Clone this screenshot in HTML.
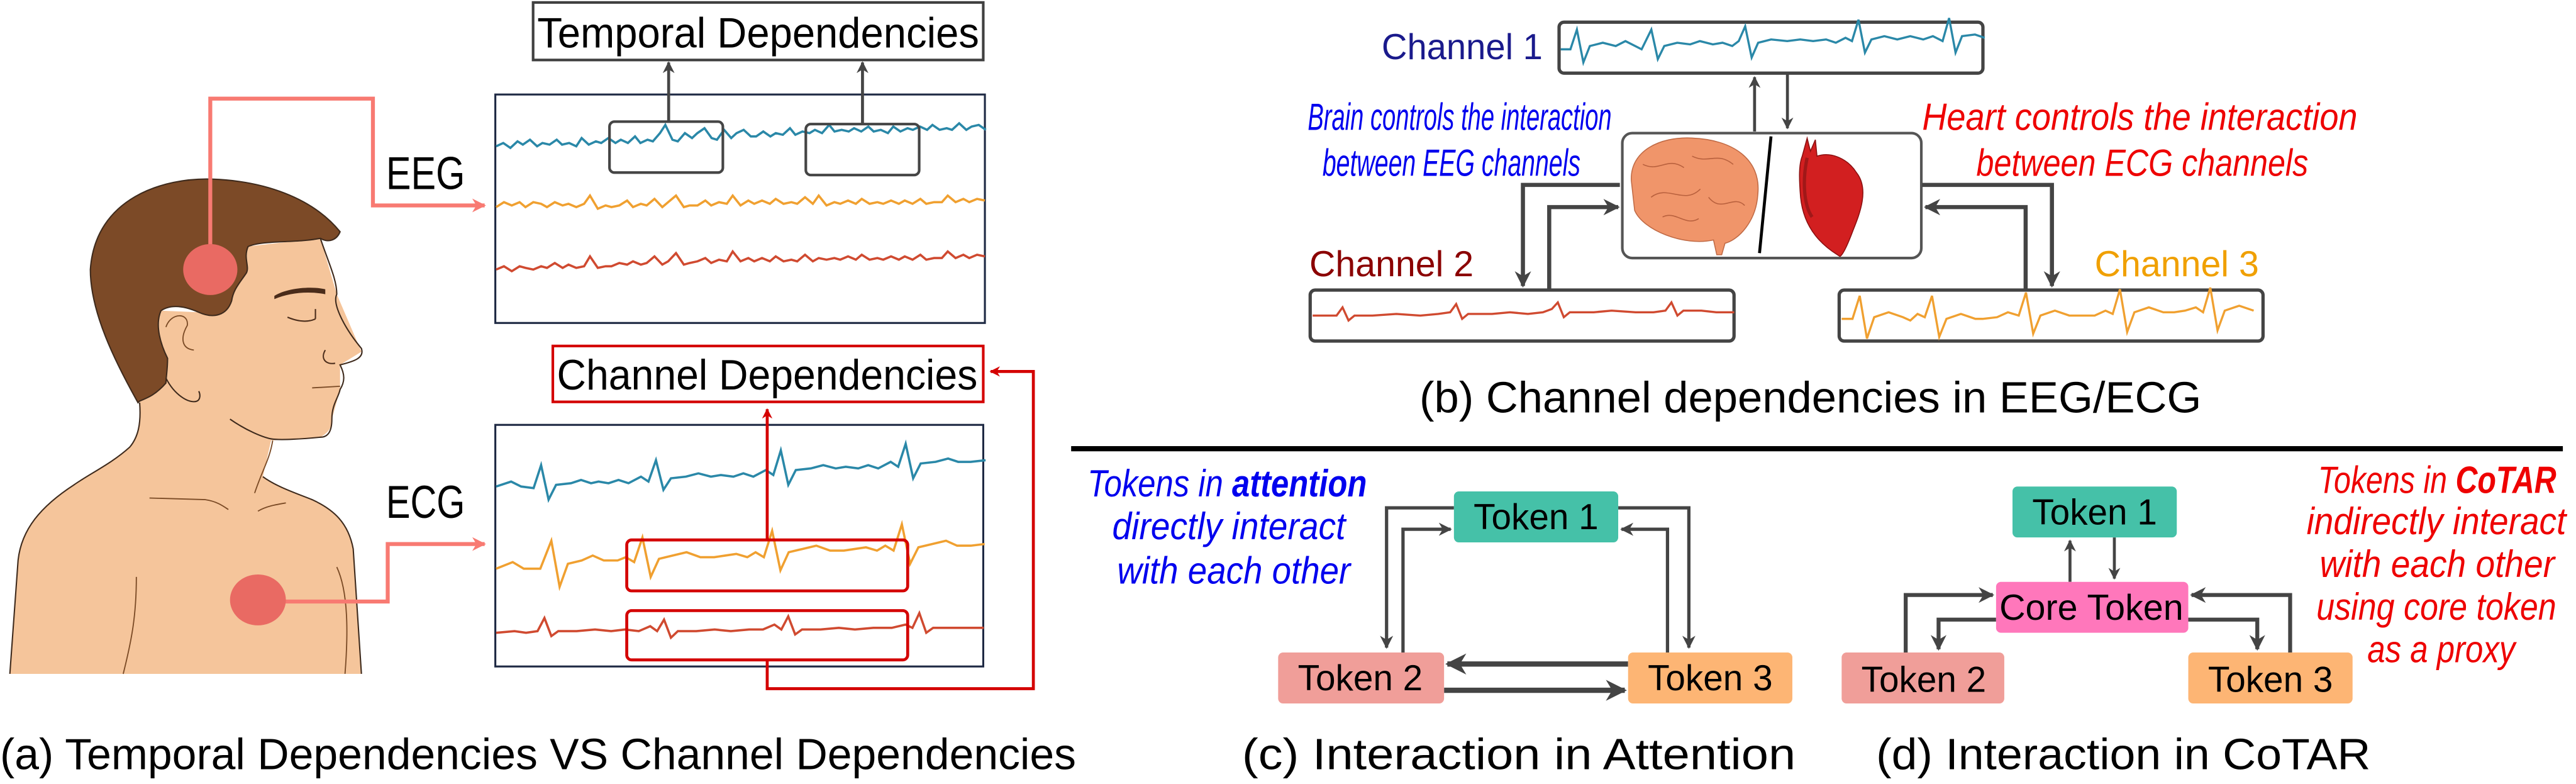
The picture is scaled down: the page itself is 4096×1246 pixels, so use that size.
<!DOCTYPE html>
<html><head><meta charset="utf-8"><style>
html,body{margin:0;padding:0;background:#fff;}
svg{display:block;}
text{font-family:"Liberation Sans",sans-serif;}
</style></head><body>
<svg width="4096" height="1246" viewBox="0 0 1568 477" preserveAspectRatio="none" xmlns="http://www.w3.org/2000/svg">
<defs>
<marker id="ag" viewBox="0 0 10 10" refX="9" refY="5" markerWidth="4" markerHeight="4" orient="auto-start-reverse"><path d="M0,0 L10,5 L0,10 L3,5 Z" fill="#444"/></marker>
<marker id="ar" viewBox="0 0 10 10" refX="9" refY="5" markerWidth="3.5" markerHeight="3.5" orient="auto"><path d="M0,0 L10,5 L0,10 L3,5 Z" fill="#d40000"/></marker>
<marker id="ap" viewBox="0 0 10 10" refX="9" refY="5" markerWidth="3.5" markerHeight="3.5" orient="auto"><path d="M0,0 L10,5 L0,10 L3,5 Z" fill="#f87a72"/></marker>
</defs>

<!-- ===== Panel (a) person ===== -->
<path d="M85,245 C86,258 84,266 79,272 C68,282 55,288 45,295 C25,308 13,322 11,341 L6,410 L220,410 L215,334 C212,318 203,310 190,304 C180,300 168,296 160,290 L165,268 L195,266 C202,262 202,258 202,255 L207,237 L207,222 L220,214 L205,179 L195,145 L150,150 L121,190 L98,189 L85,244 Z" fill="#f5c59b"/>
<path d="M85,245 C86,258 84,266 79,272 C68,282 55,288 45,295 C25,308 13,322 11,341 L6,410" fill="none" stroke="#3e2a1c" stroke-width="0.8"/>
<path d="M160,290 C168,296 180,300 190,304 C203,310 212,318 215,334 L220,410" fill="none" stroke="#3e2a1c" stroke-width="0.8"/>
<path d="M84,245 C70,220 55,190 55,164 C58,120 100,108 129,109 C160,110 190,120 207,141 C205,146 200,148 195,145 C180,148 160,146 151,150 C148,157 152,162 150,166 C146,172 142,176 141,183 C138,192 130,194 121,190 C112,186 104,185 98,189 C94,198 98,210 102,218 C102,225 101,230 101,233 C95,240 90,242 85,244 Z" fill="#7c4a27" stroke="#3e2a1c" stroke-width="0.8"/>
<path d="M195,145 C200,160 205,170 205,179 C202,185 210,200 220,212 C222,218 215,220 207,222 C210,228 210,232 207,237 C206,242 202,246 202,255 C202,262 200,266 195,266 C185,267 170,268 165,267 C160,266 150,262 140,255" fill="none" stroke="#3e2a1c" stroke-width="0.8"/>
<path d="M166,268 C164,280 160,285 155,300" fill="none" stroke="#7a4a25" stroke-width="0.7"/>
<path d="M91,303 L125,304 C132,305 136,308 139,310 M157,311 C162,308 168,307 174,306 M83,351 C83,375 80,390 75,410 M205,345 C212,360 212,385 210,410" fill="none" stroke="#7a4a25" stroke-width="0.7"/>
<path d="M167,180 C175,175 190,174 198,176 L198,179 C188,177 176,178 167,182 Z" fill="#4a2c1a"/>
<path d="M175,193 C182,196 188,196 192,194 M192,188 L192,194 M198,213 C195,218 198,222 204,221" fill="none" stroke="#4a2c1a" stroke-width="0.8"/>
<path d="M190,236 L207,235" stroke="#7a4a25" stroke-width="0.7"/>
<path d="M101,230 C106,240 115,246 120,244 C122,243 122,240 121,238" fill="none" stroke="#3e2a1c" stroke-width="0.8"/>
<path d="M101,199 C104,190 115,190 114,198 C110,205 110,212 118,213" fill="none" stroke="#7a4a25" stroke-width="0.7"/>

<polyline points="128,164 128,60 227,60 227,125 295,125" fill="none" stroke="#f87a72" stroke-width="2.4" marker-end="url(#ap)"/>
<polyline points="157,366 236,366 236,331 295,331" fill="none" stroke="#f87a72" stroke-width="2.4" marker-end="url(#ap)"/>
<ellipse cx="128" cy="164" rx="16.5" ry="15.5" fill="#e96a63"/>
<ellipse cx="157" cy="365" rx="17" ry="15.5" fill="#e96a63"/>

<text x="235" y="115" font-size="28" textLength="48" lengthAdjust="spacingAndGlyphs">EEG</text>
<text x="235" y="315" font-size="28" textLength="48" lengthAdjust="spacingAndGlyphs">ECG</text>

<rect x="324.5" y="1.5" width="274" height="35" fill="#fff" stroke="#404040" stroke-width="1.6"/>
<text x="327" y="29" font-size="26" textLength="269" lengthAdjust="spacingAndGlyphs">Temporal Dependencies</text>

<rect x="301.5" y="57.5" width="298" height="139" fill="#fff" stroke="#1f2a44" stroke-width="1.2"/>
<g transform="translate(302,0) scale(1.084,1) translate(-302,0)">
<path vector-effect="non-scaling-stroke" d="M302,89 l4,-2 4,3 4,-4 3,2 4,-3 4,4 3,-2 4,1 4,-3 3,3 4,-1 4,2 3,-5 4,4 4,-2 3,1 4,-3 4,3 3,-2 4,2 4,-4 3,4 4,-2 3,1 4,-5 3,-5 4,9 3,1 4,-5 4,3 3,-3 4,-3 4,6 3,1 4,-6 4,5 3,-3 4,-2 4,4 3,0 4,-3 4,3 3,-2 4,1 4,-4 3,4 4,-2 4,1 3,-2 4,2 4,-5 3,4 4,-1 4,1 3,-2 4,2 4,-3 3,3 4,-1 4,2 3,-4 4,3 4,-2 3,1 4,-2 4,2 3,-3 4,3 4,-1 3,1 4,-4 4,4 3,-2 4,-1 4,3" fill="none" stroke="#2a88a8" stroke-width="3.6"/></g>
<g transform="translate(302,0) scale(1.19,1) translate(-302,0)">
<path vector-effect="non-scaling-stroke" d="M302,126 l4,-3 4,2 4,-2 3,3 4,-3 4,1 3,2 4,-3 4,2 3,-1 4,2 4,-2 3,-5 4,8 4,-2 3,1 4,-1 4,-3 3,4 4,-2 3,1 4,-4 4,5 3,-3 4,-4 4,7 3,-1 4,0 4,-3 3,3 4,-2 4,1 3,-5 4,6 4,-3 3,2 4,-2 4,2 3,-3 4,3 4,-1 3,1 4,-4 4,4 3,-5 4,6 4,-2 3,1 4,-2 4,2 3,-3 4,3 4,-1 3,1 4,-2 4,2 3,-2 4,2 4,-3 3,3 4,-1 4,0 3,-4 4,4 4,-2 3,2 4,-2 4,1" fill="none" stroke="#f0a030" stroke-width="3.6"/>
<path vector-effect="non-scaling-stroke" d="M302,164 l4,-2 4,3 4,-3 3,1 4,1 4,-2 3,1 4,-3 4,3 3,-2 4,2 4,-1 3,-6 4,7 4,-1 3,0 4,-2 4,1 3,-2 4,2 3,-1 4,-4 4,5 3,-2 4,-5 4,7 3,-1 4,-1 4,-2 3,3 4,-2 4,1 3,-6 4,6 4,-2 3,2 4,-2 4,2 3,-3 4,3 4,-1 3,1 4,-4 4,4 3,-2 4,1 4,-1 3,1 4,-2 4,2 3,-3 4,3 4,-1 3,1 4,-2 4,2 3,-2 4,2 4,-3 3,3 4,-1 4,0 3,-4 4,4 4,-2 3,2 4,-2 4,1" fill="none" stroke="#d04a30" stroke-width="3.6"/></g>
<rect x="371" y="74" width="69" height="31" rx="3" fill="none" stroke="#454545" stroke-width="1.6"/>
<rect x="490.5" y="75.5" width="69" height="31" rx="3" fill="none" stroke="#454545" stroke-width="1.6"/>
<line x1="407" y1="74" x2="407" y2="38" stroke="#454545" stroke-width="1.8" marker-end="url(#ag)"/>
<line x1="525" y1="75" x2="525" y2="38" stroke="#454545" stroke-width="1.8" marker-end="url(#ag)"/>

<rect x="336.5" y="210.5" width="262" height="34" fill="#fff" stroke="#d40000" stroke-width="1.6"/>
<text x="339" y="237" font-size="26" textLength="256" lengthAdjust="spacingAndGlyphs">Channel Dependencies</text>

<rect x="301.5" y="258.5" width="297" height="147" fill="#fff" stroke="#1f2a44" stroke-width="1.2"/>
<g transform="translate(302,0) scale(1.52,1) translate(-302,0)">
<path vector-effect="non-scaling-stroke" d="M302,296 l6,-3 4,3 5,1 3,-14 3,21 3,-9 6,-1 4,-2 4,2 3,-1 4,1 4,-2 4,2 5,-4 3,3 3,-13 3,18 3,-7 6,-1 5,-2 5,2 4,-1 5,1 4,-2 4,2 5,-4 3,3 3,-15 3,21 3,-9 6,-1 5,-2 5,2 4,-1 5,1 4,-2 4,2 5,-4 3,3 3,-14 3,21 3,-9 6,-1 5,-2 4,2 5,0 6,-1" fill="none" stroke="#2a88a8" stroke-width="3.6"/></g>
<g transform="translate(302,0) scale(1.68,1) translate(-302,0)">
<path vector-effect="non-scaling-stroke" d="M302,346 l6,-4 4,4 6,0 4,-17 3,28 3,-14 5,-2 4,-3 4,3 5,0 3,-2 3,3 3,-15 3,24 3,-11 5,-2 5,-2 5,3 5,0 4,-1 4,-1 4,2 3,-3 3,3 3,-16 3,24 3,-11 5,-2 5,-2 5,3 5,0 4,-1 4,-1 4,2 3,-3 3,3 3,-16 3,24 3,-10 5,-2 5,-2 4,3 5,0 5,-1" fill="none" stroke="#f0a030" stroke-width="3.6"/></g>
<g transform="translate(302,0) scale(1.40,1) translate(-302,0)">
<path vector-effect="non-scaling-stroke" d="M302,385 l8,-1 5,1 5,-1 3,-8 3,11 3,-3 8,0 8,-1 7,1 6,-1 6,1 5,-3 3,3 3,-7 3,11 3,-4 8,0 8,-1 7,1 8,-1 6,0 5,-3 3,3 3,-8 3,11 3,-3 8,0 8,-1 7,1 8,-1 8,0 6,-2 3,2 3,-9 3,12 3,-3 8,0 8,0 6,0" fill="none" stroke="#d04a30" stroke-width="3.6"/></g>
<rect x="381.5" y="328.5" width="171" height="31" rx="3" fill="none" stroke="#d40000" stroke-width="1.8"/>
<rect x="381.5" y="371.5" width="171" height="30" rx="3" fill="none" stroke="#d40000" stroke-width="1.8"/>
<line x1="467" y1="328" x2="467" y2="249" stroke="#d40000" stroke-width="1.8" marker-end="url(#ar)"/>
<polyline points="467,402 467,419 629,419 629,226 603,226" fill="none" stroke="#d40000" stroke-width="1.8" marker-end="url(#ar)"/>

<text x="0" y="468" font-size="26.5" textLength="655" lengthAdjust="spacingAndGlyphs">(a) Temporal Dependencies VS Channel Dependencies</text>

<!-- ===== Panel (b) ===== -->
<text x="841" y="36" font-size="22" fill="#1a1a8c" textLength="98" lengthAdjust="spacingAndGlyphs">Channel 1</text>
<rect x="949" y="13.5" width="258" height="31" rx="3" fill="#fff" stroke="#444" stroke-width="2"/>
<g transform="translate(950,0) scale(1.97,1) translate(-950,0)">
<path vector-effect="non-scaling-stroke" d="M950,30 l3,0 2,-12 2,20 2,-10 4,-2 4,2 3,-3 3,3 2,2 3,-12 2,18 2,-8 4,-2 4,1 3,-2 4,2 3,-1 3,2 2,-3 2,-9 2,19 2,-9 4,-2 5,1 4,-1 4,1 4,-1 3,2 3,-3 2,2 2,-13 2,20 2,-8 4,-2 4,2 4,-2 4,2 3,-2 3,3 2,-14 2,21 2,-10 4,-1 3,2" fill="none" stroke="#2a88a8" stroke-width="3.4"/></g>
<line x1="1068" y1="80" x2="1068" y2="47" stroke="#444" stroke-width="1.8" marker-end="url(#ag)"/>
<line x1="1088" y1="45" x2="1088" y2="78" stroke="#444" stroke-width="1.8" marker-end="url(#ag)"/>

<text x="796" y="79" font-size="23" font-style="italic" fill="#0000ee" textLength="185" lengthAdjust="spacingAndGlyphs">Brain controls the interaction</text>
<text x="805" y="107" font-size="23" font-style="italic" fill="#0000ee" textLength="157" lengthAdjust="spacingAndGlyphs">between EEG channels</text>
<text x="1170" y="79" font-size="23" font-style="italic" fill="#ee0000" textLength="265" lengthAdjust="spacingAndGlyphs">Heart controls the interaction</text>
<text x="1203" y="107" font-size="23" font-style="italic" fill="#ee0000" textLength="202" lengthAdjust="spacingAndGlyphs">between ECG channels</text>

<rect x="987.5" y="81" width="182" height="76" rx="6" fill="#fff" stroke="#555" stroke-width="1.6"/>
<path d="M993,110 C992,92 1010,83 1030,84 C1055,85 1072,97 1070,118 C1069,135 1058,146 1050,148 L1048,155 L1045,155 L1043,146 C1025,150 1000,140 995,128 Z" fill="#f0956a" stroke="#c06a45" stroke-width="0.6"/>
<path d="M1000,100 C1010,105 1015,95 1025,102 M1005,120 C1015,112 1025,125 1035,115 M1030,95 C1040,100 1045,92 1055,100 M1040,120 C1048,130 1055,118 1062,125 M1012,132 C1020,128 1026,138 1034,133" fill="none" stroke="#b8603d" stroke-width="0.6"/>
<path d="M1078,83 L1071,154" stroke="#000" stroke-width="1.8"/>
<path d="M1097,95 L1100,84 L1102,92 L1105,85 L1106,95 C1115,92 1125,97 1130,105 C1138,115 1132,130 1128,140 C1125,148 1122,155 1120,156 C1110,150 1098,140 1096,120 C1095,108 1095,100 1097,95 Z" fill="#d21f20" stroke="#8a0f10" stroke-width="0.6"/>
<path d="M1100,96 C1097,110 1098,125 1103,132" fill="none" stroke="#a01818" stroke-width="2"/>

<text x="797" y="168" font-size="22" fill="#8b0000" textLength="100" lengthAdjust="spacingAndGlyphs">Channel 2</text>
<text x="1275" y="168" font-size="22" fill="#f0a000" textLength="100" lengthAdjust="spacingAndGlyphs">Channel 3</text>
<rect x="797.5" y="176.5" width="258" height="31" rx="3" fill="#fff" stroke="#444" stroke-width="2"/>
<g transform="translate(799,0) scale(1.82,1) translate(-799,0)">
<path vector-effect="non-scaling-stroke" d="M799,192 l8,0 2,-5 2,8 2,-3 6,0 8,-1 8,1 6,-1 4,-1 2,-5 2,9 2,-3 8,0 6,-1 6,1 5,-1 3,-2 2,-4 2,9 2,-3 8,0 6,-1 8,1 6,0 4,-1 2,-5 2,8 2,-3 6,0 5,1 6,0" fill="none" stroke="#d04a30" stroke-width="3.4"/></g>
<rect x="1119.5" y="176.5" width="258" height="31" rx="3" fill="#fff" stroke="#444" stroke-width="2"/>
<g transform="translate(1121,0) scale(2.2,1) translate(-1121,0)">
<path vector-effect="non-scaling-stroke" d="M1121,194 l3,0 2,-14 2,26 2,-13 4,-3 4,3 2,2 2,-4 2,2 2,-13 2,25 2,-11 4,-3 4,3 2,0 4,-1 3,-3 3,2 2,-14 2,25 2,-11 4,-3 4,3 3,0 4,0 3,-3 2,2 2,-15 2,26 2,-12 4,-3 4,3 3,0 3,-1 3,-2 2,3 2,-15 2,26 2,-12 4,-3 4,3" fill="none" stroke="#f0a030" stroke-width="3.4"/></g>

<path d="M986,112.5 L927,112.5 L927,174" fill="none" stroke="#444" stroke-width="2.5" marker-end="url(#ag)"/>
<path d="M943,176 L943,126 L985,126" fill="none" stroke="#444" stroke-width="2.5" marker-end="url(#ag)"/>
<path d="M1170,112.5 L1249,112.5 L1249,174" fill="none" stroke="#444" stroke-width="2.5" marker-end="url(#ag)"/>
<path d="M1233,176 L1233,126 L1172,126" fill="none" stroke="#444" stroke-width="2.5" marker-end="url(#ag)"/>

<text x="864" y="251" font-size="26.5" textLength="476" lengthAdjust="spacingAndGlyphs">(b) Channel dependencies in EEG/ECG</text>

<line x1="652" y1="273" x2="1560" y2="273" stroke="#000" stroke-width="3.2"/>

<!-- ===== Panel (c) ===== -->
<text x="662" y="302" font-size="23" font-style="italic" fill="#0000ee" textLength="170" lengthAdjust="spacingAndGlyphs">Tokens in <tspan font-weight="bold">attention</tspan></text>
<text x="677" y="328" font-size="23" font-style="italic" fill="#0000ee" textLength="142" lengthAdjust="spacingAndGlyphs">directly interact</text>
<text x="680" y="355" font-size="23" font-style="italic" fill="#0000ee" textLength="142" lengthAdjust="spacingAndGlyphs">with each other</text>

<path d="M885,309 L844,309 L844,394" fill="none" stroke="#444" stroke-width="2" marker-end="url(#ag)"/>
<path d="M854,397 L854,322 L883,322" fill="none" stroke="#444" stroke-width="2" marker-end="url(#ag)"/>
<path d="M985,309 L1028,309 L1028,394" fill="none" stroke="#444" stroke-width="2" marker-end="url(#ag)"/>
<path d="M1015,397 L1015,322 L987,322" fill="none" stroke="#444" stroke-width="2" marker-end="url(#ag)"/>
<line x1="991" y1="404" x2="881" y2="404" stroke="#444" stroke-width="3.2" marker-end="url(#ag)"/>
<line x1="879" y1="420" x2="989" y2="420" stroke="#444" stroke-width="3.2" marker-end="url(#ag)"/>

<rect x="885" y="299" width="100" height="31" rx="3" fill="#45c1a8"/>
<text x="897" y="322" font-size="22" textLength="76" lengthAdjust="spacingAndGlyphs">Token 1</text>
<rect x="778" y="397" width="101" height="31" rx="3" fill="#f09e99"/>
<text x="790" y="420" font-size="22" textLength="76" lengthAdjust="spacingAndGlyphs">Token 2</text>
<rect x="991" y="397" width="100" height="31" rx="3" fill="#fdb574"/>
<text x="1003" y="420" font-size="22" textLength="76" lengthAdjust="spacingAndGlyphs">Token 3</text>

<text x="756" y="468" font-size="26.5" textLength="337" lengthAdjust="spacingAndGlyphs">(c)  Interaction in Attention</text>

<!-- ===== Panel (d) ===== -->
<line x1="1260" y1="354" x2="1260" y2="329" stroke="#444" stroke-width="1.8" marker-end="url(#ag)"/>
<line x1="1287" y1="327" x2="1287" y2="352" stroke="#444" stroke-width="1.8" marker-end="url(#ag)"/>
<path d="M1160,397 L1160,362 L1213,362" fill="none" stroke="#444" stroke-width="2.4" marker-end="url(#ag)"/>
<path d="M1215,377 L1180,377 L1180,395" fill="none" stroke="#444" stroke-width="2.4" marker-end="url(#ag)"/>
<path d="M1394,397 L1394,362 L1334,362" fill="none" stroke="#444" stroke-width="2.4" marker-end="url(#ag)"/>
<path d="M1332,377 L1374,377 L1374,395" fill="none" stroke="#444" stroke-width="2.4" marker-end="url(#ag)"/>

<rect x="1225" y="296" width="100" height="31" rx="3" fill="#45c1a8"/>
<text x="1237" y="319" font-size="22" textLength="76" lengthAdjust="spacingAndGlyphs">Token 1</text>
<rect x="1215" y="354" width="117" height="31" rx="3" fill="#ff77bb"/>
<text x="1217" y="377" font-size="22" textLength="112" lengthAdjust="spacingAndGlyphs">Core Token</text>
<rect x="1121" y="397" width="99" height="31" rx="3" fill="#f09e99"/>
<text x="1133" y="421" font-size="22" textLength="76" lengthAdjust="spacingAndGlyphs">Token 2</text>
<rect x="1332" y="397" width="100" height="31" rx="3" fill="#fdb574"/>
<text x="1344" y="421" font-size="22" textLength="76" lengthAdjust="spacingAndGlyphs">Token 3</text>

<text x="1411" y="300" font-size="23" font-style="italic" fill="#ee0000" textLength="145" lengthAdjust="spacingAndGlyphs">Tokens in <tspan font-weight="bold">CoTAR</tspan></text>
<text x="1404" y="325" font-size="23" font-style="italic" fill="#ee0000" textLength="158" lengthAdjust="spacingAndGlyphs">indirectly interact</text>
<text x="1412" y="351" font-size="23" font-style="italic" fill="#ee0000" textLength="143" lengthAdjust="spacingAndGlyphs">with each other</text>
<text x="1410" y="377" font-size="23" font-style="italic" fill="#ee0000" textLength="146" lengthAdjust="spacingAndGlyphs">using core token</text>
<text x="1441" y="403" font-size="23" font-style="italic" fill="#ee0000" textLength="90" lengthAdjust="spacingAndGlyphs">as a proxy</text>

<text x="1142" y="468" font-size="26.5" textLength="301" lengthAdjust="spacingAndGlyphs">(d)  Interaction in CoTAR</text>
</svg>
</body></html>
